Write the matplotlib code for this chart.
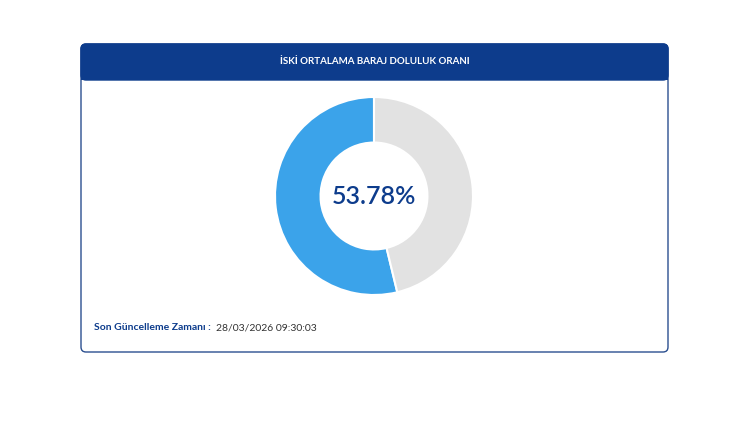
import matplotlib
matplotlib.use("Agg")
import matplotlib.pyplot as plt
from matplotlib.patches import FancyBboxPatch, Rectangle

title = "İSKİ ORTALAMA BARAJ DOLULUK ORANI"
fill_pct = 53.78
values = [fill_pct, 100 - fill_pct]
colors = ["#3ba3ea", "#e2e2e2"]
update_label = "Son Güncelleme Zamanı :"
update_time = "28/03/2026 09:30:03"

W, H = 750, 421
fig = plt.figure(figsize=(W/100, H/100), dpi=100)
bg = fig.add_axes([0, 0, 1, 1])
bg.set_xlim(0, W); bg.set_ylim(H, 0); bg.axis("off")

navy = "#0d3c8c"
bg.add_patch(FancyBboxPatch((81, 44), 587, 308, boxstyle="round,pad=0,rounding_size=5",
                            fc="white", ec="#2b4f8f", lw=1))
bg.add_patch(FancyBboxPatch((81, 44), 587, 36, boxstyle="round,pad=0,rounding_size=5",
                            fc=navy, ec=navy, lw=1))
bg.add_patch(Rectangle((81, 70), 587, 10, fc=navy, ec="none"))
bg.text(374.5, 62, title, color="white", fontsize=7, fontweight="bold",
        ha="center", va="center", family="Lato")
bg.text(94, 328, update_label, color=navy, fontsize=7.5, fontweight="bold",
        ha="left", va="center", family="Lato")
bg.text(216, 328, update_time, color="#333333", fontsize=7.5,
        ha="left", va="center", family="Lato")

cx, cy, r = 374, 196, 99
ax = fig.add_axes([(cx - r)/W, 1 - (cy + r)/H, 2*r/W, 2*r/H])
ax.pie(values, colors=colors, startangle=90, counterclock=True, radius=1,
       wedgeprops=dict(width=0.46, edgecolor="white", linewidth=1.5))
ax.set_xlim(-1, 1); ax.set_ylim(-1, 1)
ax.set_aspect("equal")
ax.text(0, 0, f"{fill_pct:.2f}%", ha="center", va="center", fontsize=18,
        color=navy, family="Lato", fontweight="semibold")

fig.savefig("out.png", dpi=100)
